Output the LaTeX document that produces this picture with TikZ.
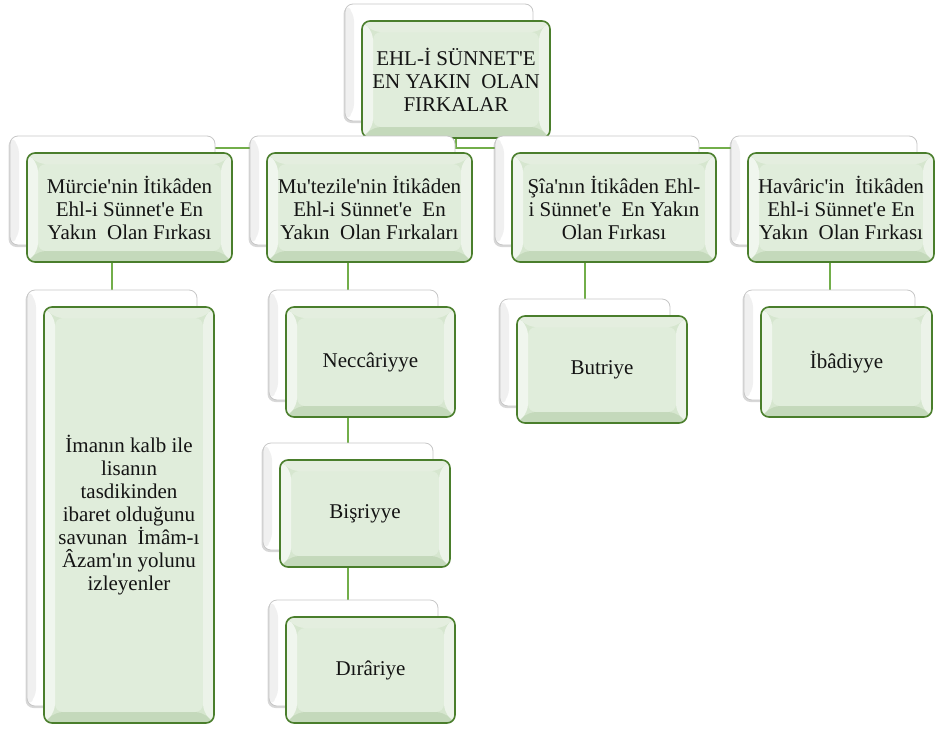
\documentclass[tikz,border=0pt]{standalone}
\usepackage{fontspec}
\setmainfont{Liberation Serif}[Ligatures=TeXOff]
\usetikzlibrary{shadows}
\definecolor{frfill}{HTML}{D6E6CF}
\definecolor{frinner}{HTML}{E0EDDB}
\definecolor{frdraw}{HTML}{4A7E2C}
\definecolor{conncol}{HTML}{72AE4A}
\pgfdeclarelayer{paper}
\pgfdeclarelayer{bg}
\pgfsetlayers{paper,bg,main}
\tikzset{
  frontbox/.style={rounded corners=8pt, fill=frfill, draw=frdraw, line width=1.6pt,
    align=center, inner sep=0pt, text=black!92,
    font=\fontsize{21}{23}\selectfont,
    path picture={
      \path (path picture bounding box.south west) coordinate (qsw)
            (path picture bounding box.north east) coordinate (qne)
            (path picture bounding box.north west) coordinate (qnw)
            (path picture bounding box.south east) coordinate (qse);
      \fill[frinner] ([shift={(11pt,11pt)}]qsw) rectangle ([shift={(-11pt,-11pt)}]qne);
      \fill[white,opacity=.65] (qsw) -- (qnw) -- ([shift={(11pt,-11pt)}]qnw) -- ([shift={(11pt,11pt)}]qsw) -- cycle;
      \fill[white,opacity=.35] (qnw) -- (qne) -- ([shift={(-11pt,-11pt)}]qne) -- ([shift={(11pt,-11pt)}]qnw) -- cycle;
      \fill[white,opacity=.55] (qne) -- (qse) -- ([shift={(-11pt,11pt)}]qse) -- ([shift={(-11pt,-11pt)}]qne) -- cycle;
      \fill[frdraw,opacity=.12] (qse) -- (qsw) -- ([shift={(11pt,11pt)}]qsw) -- ([shift={(-11pt,11pt)}]qse) -- cycle;
    }},
  backbox/.style={rounded corners=8pt, fill=white, draw=black!22, line width=.8pt,
    inner sep=0pt,
    drop shadow={shadow xshift=-1.5pt, shadow yshift=-2pt, opacity=.25, fill=black!60},
    path picture={
      \path (path picture bounding box.south west) coordinate (rsw)
            (path picture bounding box.north west) coordinate (rnw);
      \fill[black!6] (rsw) -- (rnw) -- ([shift={(9pt,-9pt)}]rnw) -- ([shift={(9pt,9pt)}]rsw) -- cycle;
    }},
  conn/.style={draw=conncol, line width=2pt}
}
\newcommand\boxpair[6]{%
  \node[backbox, minimum width=#4pt, minimum height=#5pt] (#1B) at (#2-17,#3-17) {};
  \node[frontbox, minimum width=#4pt, minimum height=#5pt] (#1) at (#2,#3) {#6};
}
\begin{document}
\begin{tikzpicture}[x=1pt,y=-1pt]
\begin{pgfonlayer}{paper}
\fill[white] (0,0) rectangle (936,734);
\end{pgfonlayer}
\useasboundingbox (0,0) rectangle (936,734);
\coordinate (bus) at (0,148);
\boxpair{root}{456}{79.5}{188}{117}{EHL-İ SÜNNET'E\\EN YAKIN\ \ OLAN\\FIRKALAR}
\boxpair{mur}{129.5}{207.5}{205}{109}{Mürcie'nin İtikâden\\Ehl-i Sünnet'e En\\Yakın\ \ Olan Fırkası}
\boxpair{mut}{369.5}{207.5}{205}{109}{Mu'tezile'nin İtikâden\\Ehl-i Sünnet'e\ \ En\\Yakın\ \ Olan Fırkaları}
\boxpair{sia}{614}{207.5}{204}{109}{Şîa'nın İtikâden Ehl-\\i Sünnet'e\ \ En Yakın\\Olan Fırkası}
\boxpair{hav}{841}{207.5}{186}{109}{Havâric'in\ \ İtikâden\\Ehl-i Sünnet'e En\\Yakın\ \ Olan Fırkası}
\boxpair{iman}{129}{515}{170}{416}{İmanın kalb ile\\lisanın\\tasdikinden\\ibaret olduğunu\\savunan\ \ İmâm-ı\\Âzam'ın yolunu\\izleyenler}
\boxpair{nec}{370.5}{362}{169}{110}{Neccâriyye}
\boxpair{bis}{365}{513.5}{170}{107}{Bişriyye}
\boxpair{dir}{370.5}{670}{169}{106}{Dırâriye}
\boxpair{but}{602}{369.5}{170}{107}{Butriye}
\boxpair{ibd}{846.5}{362}{171}{110}{İbâdiyye}
\begin{pgfonlayer}{bg}
\draw[conn] (root.center) -- (root.center |- bus) -| (imanB.center);
\draw[conn] (root.center |- bus) -| (bisB.center);
\draw[conn] (root.center |- bus) -| (butB.center);
\draw[conn] (root.center |- bus) -| (ibdB.center);
\draw[conn] (bisB.center) -- (bisB.center |- dirB.center);
\end{pgfonlayer}
\end{tikzpicture}
\end{document}
